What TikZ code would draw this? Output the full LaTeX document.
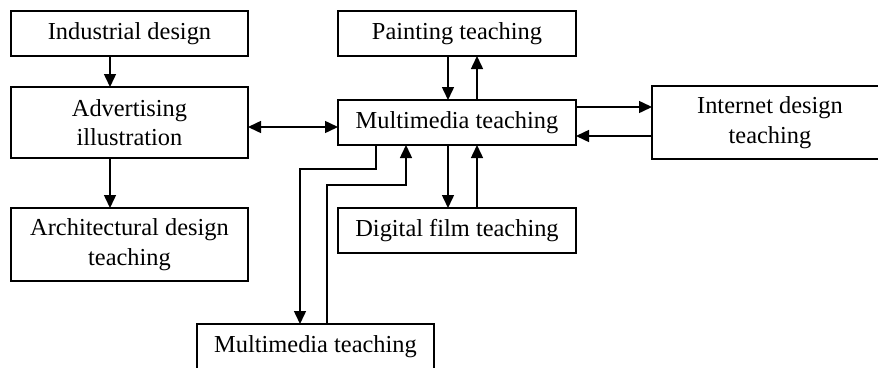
\documentclass[tikz,border=0pt]{standalone}
\usepackage{fontspec}
\setmainfont{Liberation Serif}
\usetikzlibrary{arrows.meta}
\tikzset{
  box/.style={draw, line width=1.5pt, outer sep=0pt, inner sep=2pt, align=center,
    font=\fontsize{24.4}{29.5}\selectfont},
  arr/.style={line width=1.5pt, -{Triangle[length=13pt,width=12pt]}},
  dblarr/.style={line width=1.5pt, {Triangle[length=13pt,width=12pt]}-{Triangle[length=13pt,width=12pt]}}
}
\begin{document}
\begin{tikzpicture}[x=1pt, y=-1pt]
\useasboundingbox (0,0) rectangle (878,367);
\clip (0,0) rectangle (878,367);
% left column
\node[box, minimum width=237pt, minimum height=45pt] (ind) at (129.5,33.5) {Industrial design};
\node[box, minimum width=237pt, minimum height=71pt] (adv) at (129.5,122.5) {Advertising\\illustration};
\node[box, minimum width=237pt, minimum height=73pt] (arch) at (129.5,244.5) {Architectural design\\teaching};
% central column
\node[box, minimum width=238pt, minimum height=45pt] (paint) at (457,33.5) {Painting teaching};
\node[box, minimum width=238pt, minimum height=45pt] (mm) at (457,122.5) {Multimedia teaching};
\node[box, minimum width=238pt, minimum height=45pt] (dig) at (457,230.5) {Digital film teaching};
% right and bottom
\node[box, minimum width=236pt, minimum height=73pt] (net) at (770,122.5) {Internet design\\teaching};
\node[box, minimum width=237pt, minimum height=45pt] (mmb) at (315.5,346.5) {Multimedia teaching};
% connectors of the left column
\draw[arr] ([xshift=-19.5pt]ind.south) -- ([xshift=-19.5pt]adv.north);
\draw[arr] ([xshift=-19.5pt]adv.south) -- ([xshift=-19.5pt]arch.north);
\draw[dblarr] ([yshift=-4.5pt]adv.east) -- ([yshift=-4.5pt]mm.west);
% painting and digital film
\draw[arr] ([xshift=-9pt]paint.south) -- ([xshift=-9pt]mm.north);
\draw[arr] ([xshift=20pt]mm.north) -- ([xshift=20pt]paint.south);
\draw[arr] ([xshift=-9pt]mm.south) -- ([xshift=-9pt]dig.north);
\draw[arr] ([xshift=20pt]dig.north) -- ([xshift=20pt]mm.south);
% internet design
\draw[arr] ([yshift=15.5pt]mm.east) -- ([yshift=15.5pt]net.west);
\draw[arr] ([yshift=-13.5pt]net.west) -- ([yshift=-13.5pt]mm.east);
% lower multimedia box
\coordinate (k1) at (300,169);
\coordinate (k2) at (406,185);
\draw[arr] ([xshift=-81pt]mm.south) |- (k1) -- (k1 |- mmb.north);
\draw[arr] ([xshift=11.5pt]mmb.north) |- (k2) -- (k2 |- mm.south);
\end{tikzpicture}
\end{document}
